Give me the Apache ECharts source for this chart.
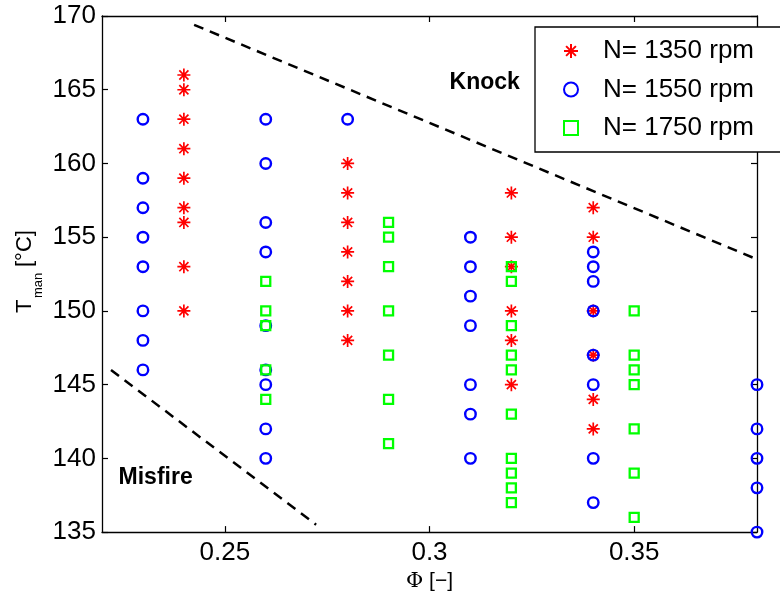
<!DOCTYPE html>
<html><head><meta charset="utf-8">
<script src="https://cdn.jsdelivr.net/npm/echarts@6/dist/echarts.min.js"></script>
<style>html,body{margin:0;padding:0;background:#fff}#c{width:780px;height:597px}</style>
</head><body><div id="c"></div>
<script>
// Data
const seriesNames = ['N= 1350 rpm', 'N= 1550 rpm', 'N= 1750 rpm'];
const rpm1350 = [
  [0.24,166],[0.24,165],[0.24,163],[0.24,161],[0.24,159],[0.24,157],[0.24,156],[0.24,153],[0.24,150],
  [0.28,160],[0.28,158],[0.28,156],[0.28,154],[0.28,152],[0.28,150],[0.28,148],
  [0.32,158],[0.32,155],[0.32,153],[0.32,150],[0.32,148],[0.32,145],
  [0.34,157],[0.34,155],[0.34,150],[0.34,147],[0.34,144],[0.34,142]
];
const rpm1550 = [
  [0.23,163],[0.23,159],[0.23,157],[0.23,155],[0.23,153],[0.23,150],[0.23,148],[0.23,146],
  [0.26,163],[0.26,160],[0.26,156],[0.26,154],[0.26,149],[0.26,146],[0.26,145],[0.26,142],[0.26,140],
  [0.28,163],
  [0.31,155],[0.31,153],[0.31,151],[0.31,149],[0.31,145],[0.31,143],[0.31,140],
  [0.34,154],[0.34,153],[0.34,152],[0.34,150],[0.34,147],[0.34,145],[0.34,140],[0.34,137],
  [0.38,145],[0.38,142],[0.38,140],[0.38,138],[0.38,135]
];
const rpm1750 = [
  [0.26,152],[0.26,150],[0.26,149],[0.26,146],[0.26,144],
  [0.29,156],[0.29,155],[0.29,153],[0.29,150],[0.29,147],[0.29,144],[0.29,141],
  [0.32,153],[0.32,152],[0.32,149],[0.32,147],[0.32,146],[0.32,143],[0.32,140],[0.32,139],[0.32,138],[0.32,137],
  [0.35,150],[0.35,147],[0.35,146],[0.35,145],[0.35,142],[0.35,139],[0.35,136]
];
const knockLine = [[0.2425,169.4],[0.38,153.5]];
const misfireLine = [[0.2222,146.0],[0.2723,135.5]];
const annotations = [{name:'Knock', value:[0.3135,165.5]}, {name:'Misfire', value:[0.2331,138.7]}];
const xTicks = [0.25, 0.3, 0.35];

const FONT = 'Liberation Sans, Arial, sans-serif';
const starPath = 'path://M0,-6L0,6M-6,0L6,0M-4.2,-4.2L4.2,4.2M-4.2,4.2L4.2,-4.2';

const chart = echarts.init(document.getElementById('c'), null, {renderer:'canvas'});
const tickStyle = {show:true, inside:true, length:6, lineStyle:{color:'#000', width:1.2}};
chart.setOption({
  animation:false,
  backgroundColor:'#fff',
  grid:{left:102, right:23, top:16, bottom:64, show:false},
  xAxis:[
    {type:'value', min:0.22, max:0.38, position:'bottom',
      axisLine:{show:true, onZero:false, lineStyle:{color:'#000', width:1.3}},
      axisTick:Object.assign({customValues:xTicks}, tickStyle),
      splitLine:{show:false},
      axisLabel:{fontFamily:FONT, fontSize:26, color:'#000', margin:8,
        customValues:xTicks, formatter:v=>String(+(+v).toFixed(2))},
      name:'{p|Φ} [−]', nameLocation:'middle', nameGap:35,
      nameTextStyle:{fontFamily:FONT, fontSize:21, color:'#000',
        rich:{p:{fontFamily:'DejaVu Serif, Liberation Serif, serif', fontSize:21, color:'#000'}}}},
    {type:'value', min:0.22, max:0.38, position:'top',
      axisLine:{show:true, onZero:false, lineStyle:{color:'#000', width:1.3}},
      axisTick:Object.assign({customValues:xTicks}, tickStyle),
      axisLabel:{show:false}, splitLine:{show:false}}
  ],
  yAxis:[
    {type:'value', min:135, max:170, interval:5, position:'left',
      axisLine:{show:true, onZero:false, lineStyle:{color:'#000', width:1.3}},
      axisTick:tickStyle, splitLine:{show:false},
      axisLabel:{fontFamily:FONT, fontSize:26, color:'#000', margin:6}},
    {type:'value', min:135, max:170, interval:5, position:'right',
      axisLine:{show:true, onZero:false, lineStyle:{color:'#000', width:1.3}},
      axisTick:tickStyle, axisLabel:{show:false}, splitLine:{show:false}}
  ],
  legend:{
    data:seriesNames, orient:'vertical', left:535, top:27,
    backgroundColor:'#fff', borderColor:'#000', borderWidth:1.3,
    padding:[11,80,11,28], itemGap:12.5, itemWidth:14, itemHeight:14,
    textStyle:{fontFamily:FONT, fontSize:26, color:'#000', lineHeight:26, padding:[0,0,0,20]}
  },
  graphic:[{
    type:'group', x:36, y:313, rotation:Math.PI/2,
    children:[
      {type:'text', x:0, y:0, style:{text:'T', fontFamily:FONT, fontSize:22, fill:'#000', verticalAlign:'bottom'}},
      {type:'text', x:15, y:9, style:{text:'man', fontFamily:FONT, fontSize:13, fill:'#000', verticalAlign:'bottom'}},
      {type:'text', x:46, y:0, style:{text:'[°C]', fontFamily:FONT, fontSize:22, fill:'#000', verticalAlign:'bottom'}}
    ]
  }],
  series:[
    {name:seriesNames[0], type:'scatter', data:rpm1350, symbol:starPath, symbolSize:13, z:3,
      itemStyle:{color:'rgba(0,0,0,0)', borderColor:'#ff0000', borderWidth:1.7, opacity:1}},
    {name:seriesNames[1], type:'scatter', data:rpm1550, symbol:'circle', symbolSize:10.5, z:4,
      itemStyle:{color:'rgba(0,0,0,0)', borderColor:'#0000ff', borderWidth:2.4, opacity:1}},
    {name:seriesNames[2], type:'scatter', data:rpm1750, symbol:'rect', symbolSize:9, z:5,
      itemStyle:{color:'rgba(0,0,0,0)', borderColor:'#00ff00', borderWidth:2.3, opacity:1}},
    {type:'line', data:knockLine, symbol:'none', silent:true, z:2,
      lineStyle:{color:'#000', width:2.5, type:[10,7]}},
    {type:'line', data:misfireLine, symbol:'none', silent:true, z:2,
      lineStyle:{color:'#000', width:2.5, type:[10,7]}},
    {type:'scatter', data:annotations, symbol:'circle', symbolSize:1, silent:true, z:6,
      itemStyle:{color:'rgba(0,0,0,0)'},
      label:{show:true, position:'inside', formatter:p=>p.name, opacity:1,
        textBorderWidth:0, fontFamily:FONT, fontSize:23, fontWeight:'bold', color:'#000000'}}
  ]
});
</script></body></html>
